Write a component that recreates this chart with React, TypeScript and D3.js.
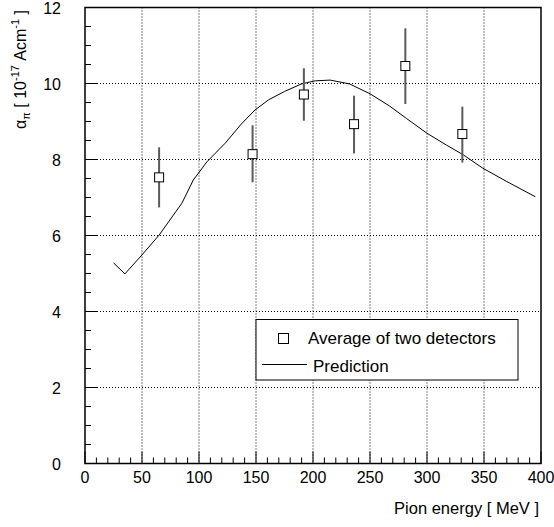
import React from "react";
import * as d3 from "d3";

const curveX = [25, 35, 50, 65, 85, 95, 107, 123, 137, 149, 161, 175, 190, 202, 215, 232, 250, 267, 282, 300, 317, 332, 349, 370, 395];
const curveY = [5.28, 4.99, 5.49, 6.01, 6.85, 7.46, 7.94, 8.43, 8.93, 9.3, 9.57, 9.79, 9.99, 10.07, 10.09, 9.99, 9.73, 9.41, 9.08, 8.69, 8.38, 8.12, 7.77, 7.42, 7.02];

const pointX = [65, 147, 192, 236, 281, 331];
const pointY = [7.53, 8.14, 9.71, 8.93, 10.46, 8.67];
const errLo = [6.74, 7.4, 9.02, 8.16, 9.46, 7.92];
const errHi = [8.32, 8.9, 10.4, 9.68, 11.45, 9.39];

const xTicks = [0, 50, 100, 150, 200, 250, 300, 350, 400];
const yTicks = [0, 2, 4, 6, 8, 10, 12];

const legendLabels = ["Average of two detectors", "Prediction"];
const xTitle = "Pion energy [ MeV ]";

export default function App() {
  const W = 554, H = 527;
  const L = 85, R = 541, T = 7.5, B = 463.5;
  const x = d3.scaleLinear().domain([0, 400]).range([L, R]);
  const y = d3.scaleLinear().domain([0, 12]).range([B, T]);
  const font = "'Liberation Sans', Arial, Helvetica, sans-serif";

  const xMinor = d3.range(0, 401, 10).filter((v) => v % 50 !== 0);
  const yMinor = d3.range(0, 12.01, 0.5).filter((v) => Math.abs(v % 2) > 0.01);

  const line = d3
    .line<number>()
    .x((_, i) => x(curveX[i]))
    .y((_, i) => y(curveY[i]));

  const sq = 9;

  return (
    <svg width={W} height={H} style={{ position: "absolute", left: 0, top: 0, background: "#fff" }} fontFamily={font}>
      <rect x={0} y={0} width={W} height={H} fill="#fff" />
      {/* grid */}
      {xTicks.slice(1, -1).map((v) => (
        <line key={"gx" + v} x1={x(v)} x2={x(v)} y1={T} y2={B} stroke="#000" strokeWidth={1} strokeDasharray="1,2" />
      ))}
      {yTicks.slice(1, -1).map((v) => (
        <line key={"gy" + v} x1={L} x2={R} y1={y(v)} y2={y(v)} stroke="#000" strokeWidth={1} strokeDasharray="1,2" />
      ))}
      {/* ticks */}
      {xTicks.map((v) => (
        <line key={"tx" + v} x1={x(v)} x2={x(v)} y1={B} y2={B - 12} stroke="#000" strokeWidth={1} />
      ))}
      {xMinor.map((v) => (
        <line key={"mx" + v} x1={x(v)} x2={x(v)} y1={B} y2={B - 6} stroke="#000" strokeWidth={1} />
      ))}
      {yTicks.map((v) => (
        <line key={"ty" + v} x1={L} x2={L + 12} y1={y(v)} y2={y(v)} stroke="#000" strokeWidth={1} />
      ))}
      {yMinor.map((v) => (
        <line key={"my" + v} x1={L} x2={L + 6} y1={y(v)} y2={y(v)} stroke="#000" strokeWidth={1} />
      ))}
      {/* frame */}
      <rect x={L} y={T} width={R - L} height={B - T} fill="none" stroke="#000" strokeWidth={1.5} />
      {/* tick labels */}
      {xTicks.map((v) => (
        <text key={"lx" + v} x={x(v)} y={483} textAnchor="middle" fontSize={16} fill="#000">
          {v}
        </text>
      ))}
      {yTicks.map((v) => (
        <text key={"ly" + v} x={61} y={y(v) + 6} textAnchor="end" fontSize={16} fill="#000">
          {v}
        </text>
      ))}
      {/* curve */}
      <path d={line(curveX) || ""} fill="none" stroke="#000" strokeWidth={1} />
      {/* points */}
      {pointX.map((v, i) => (
        <g key={"p" + i}>
          <line x1={x(v)} x2={x(v)} y1={y(errLo[i])} y2={y(errHi[i])} stroke="#5a5a5a" strokeWidth={2} />
          <rect x={x(v) - sq / 2} y={y(pointY[i]) - sq / 2} width={sq} height={sq} fill="#fff" stroke="#000" strokeWidth={1} />
        </g>
      ))}
      {/* legend */}
      <rect x={256} y={319.5} width={262} height={60.5} fill="#fff" stroke="#000" strokeWidth={1} />
      <rect x={283.5 - 5} y={338.5 - 5} width={10} height={10} fill="#fff" stroke="#000" strokeWidth={1} />
      <text x={308} y={344} fontSize={17} fill="#000">{legendLabels[0]}</text>
      <line x1={262} x2={307} y1={364.5} y2={364.5} stroke="#000" strokeWidth={1} />
      <text x={313} y={372} fontSize={17} fill="#000">{legendLabels[1]}</text>
      {/* axis titles */}
      <text x={539} y={514} textAnchor="end" fontSize={16.5} fill="#000">{xTitle}</text>
      <text transform="translate(26,10) rotate(-90)" textAnchor="end" fontSize={16} fill="#000">
        α<tspan dy={4} fontSize={11}>π</tspan>
        <tspan dy={-4}> [ 10</tspan>
        <tspan dy={-7} fontSize={11}>-17</tspan>
        <tspan dy={7}> Acm</tspan>
        <tspan dy={-7} fontSize={11}>-1</tspan>
        <tspan dy={7}> ]</tspan>
      </text>
    </svg>
  );
}
